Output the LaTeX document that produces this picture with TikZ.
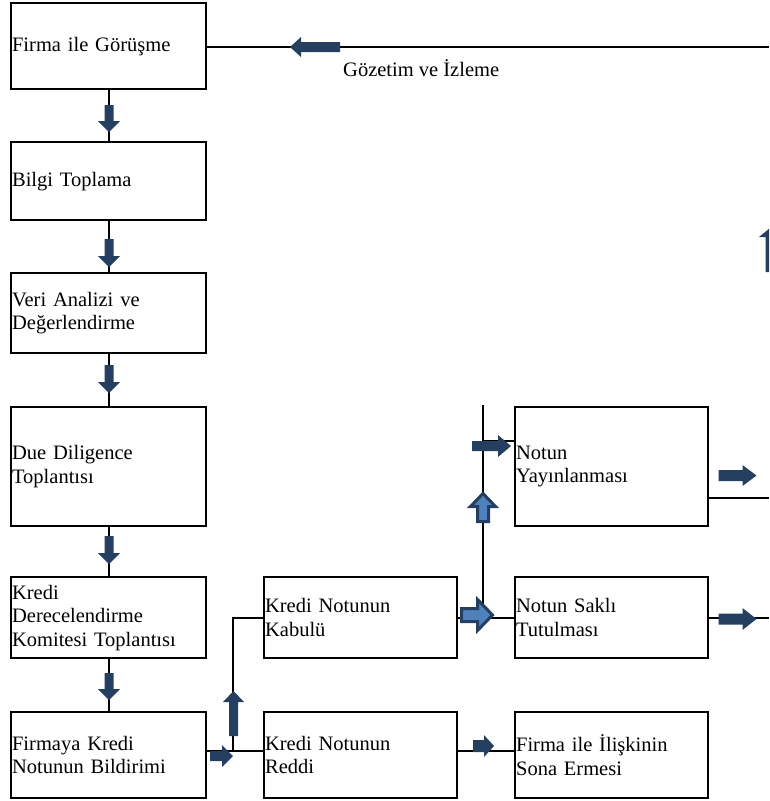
\documentclass[tikz,border=0pt]{standalone}
\usepackage{fontspec}
\setmainfont{Liberation Serif}
\usepackage{tikz}
\usetikzlibrary{calc}
\definecolor{adark}{HTML}{243F60}
\definecolor{alight}{HTML}{4F81BD}
\tikzset{box/.style = {draw, line width=2.2, anchor=north west, align=left,
                       inner xsep=1, inner ysep=0, minimum width=195, text width=193,
                       font=\fontsize{20.5}{23.5}\selectfont},
         rbox/.style = {box, minimum width=193, text width=191},
         link/.style = {line width=1.8},
         blockarrow/.style = {fill=adark},
         lightarrow/.style = {fill=alight, draw=adark, line width=3, line join=miter}}
\newcommand{\blockarrow}[7][]{%
  \path [blockarrow, #1, shift={(#2)}, rotate=#3]
    (-#4/2, -#6/2) -- (#4/2-#5, -#6/2) -- (#4/2-#5, -#7/2) -- (#4/2, 0)
    -- (#4/2-#5, #7/2) -- (#4/2-#5, #6/2) -- (-#4/2, #6/2) -- cycle;}

\begin{document}
\begin{tikzpicture}[x=1pt, y=-1pt]
    \useasboundingbox (0, 0) rectangle (769, 801);
    \clip (0, 0) rectangle (769, 801);
    \coordinate (edge) at (769, 0);

    \node [box, minimum height=86] (gorusme) at (10, 2) {Firma ile Görüşme};
    \node [box, minimum height=78] (bilgi) at (10, 141) {Bilgi Toplama};
    \node [box, minimum height=80] (analiz) at (10, 272) {Veri Analizi ve\\Değerlendirme};
    \node [box, minimum height=119] (due) at (10, 406) {Due Diligence\\Toplantısı};
    \node [box, minimum height=81] (komite) at (10, 576) {Kredi\\Derecelendirme\\Komitesi Toplantısı};
    \node [box, minimum height=86] (bildirim) at (10, 711) {Firmaya Kredi\\Notunun Bildirimi};
    \node [rbox, minimum height=81] (kabul) at (263, 576) {Kredi Notunun\\Kabulü};
    \node [rbox, minimum height=86] (red) at (263, 711) {Kredi Notunun\\Reddi};
    \node [rbox, minimum height=119] (yayin) at (514, 406) {Notun\\Yayınlanması};
    \node [rbox, minimum height=81] (sakli) at (514, 576) {Notun Saklı\\Tutulması};
    \node [rbox, minimum height=86] (sona) at (514, 711) {Firma ile İlişkinin\\Sona Ermesi};
    \node [anchor=base west, inner sep=0, font=\fontsize{20.5}{23.5}\selectfont] (gozetim)
        at (343, 76) {Gözetim ve İzleme};

    \draw [link] (gorusme) -- (bilgi);
    \draw [link] (bilgi) -- (analiz);
    \draw [link] (analiz) -- (due);
    \draw [link] (due) -- (komite);
    \draw [link] (komite) -- (bildirim);
    \draw [link] ($(gorusme.east)+(0,1)$) -- ($(gorusme.east -| edge)+(0,1)$);

    \coordinate (split) at (233, 750);
    \draw [link] ($(bildirim.east)+(0,-4)$) -- ($(red.west)+(0,-4)$);
    \draw [link] (split) |- (kabul.west);
    \draw [link] (kabul) -- (sakli);
    \draw [link] ($(red.east)+(0,-4)$) -- ($(sona.west)+(0,-4)$);
    \coordinate (ytop) at (483, 405);
    \coordinate (yin) at (483, 441);
    \draw [link] (ytop) -- (ytop |- sakli.west);
    \draw [link] (yin) -- (yin -| yayin.west);
    \coordinate (yout) at (707, 498);
    \draw [link] (yout) -- (yout -| edge);
    \draw [link] (sakli.east) -- (sakli.east -| edge);

    \blockarrow{109, 118.5}{-90}{27}{11}{9}{22}
    \blockarrow{109, 253}{-90}{28}{11}{9}{22}
    \blockarrow{109, 379}{-90}{28}{11}{9}{22}
    \blockarrow{109, 550}{-90}{28}{11}{9}{22}
    \blockarrow{109, 686.5}{-90}{27}{11}{9}{22}
    \blockarrow{315, 47}{180}{50}{11}{10}{20}
    \blockarrow{770, 250}{90}{44}{9}{9}{22}
    \blockarrow{221.5, 756}{0}{23}{11}{10}{22}
    \blockarrow{233.5, 713.5}{90}{45}{11}{9}{21}
    \blockarrow[lightarrow]{477, 615}{0}{31}{15}{13}{31}
    \blockarrow[lightarrow]{483, 507.5}{90}{28}{13}{11}{25}
    \blockarrow{491.5, 446}{0}{39}{13}{10}{22}
    \blockarrow{737.5, 475.5}{0}{38}{14}{11}{21}
    \blockarrow{737.5, 619}{0}{38}{14}{11}{22}
    \blockarrow{483.5, 746}{0}{21}{10}{12}{22}
\end{tikzpicture}
\end{document}
